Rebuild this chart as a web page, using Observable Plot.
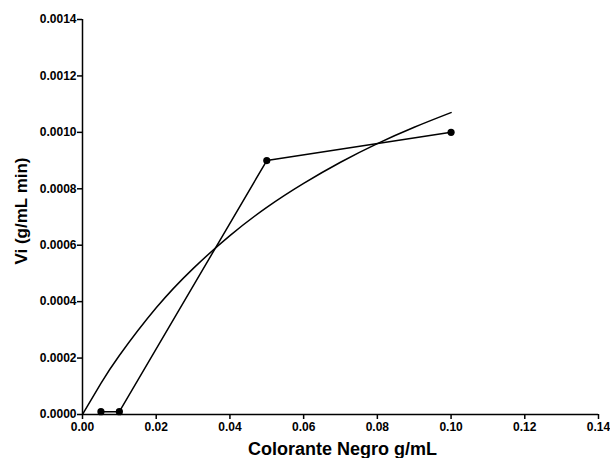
<!DOCTYPE html>
<html><head><meta charset="utf-8">
<script src="https://cdn.jsdelivr.net/npm/d3@7"></script>
<script src="https://cdn.jsdelivr.net/npm/@observablehq/plot@0.6"></script>
<style>body{margin:0;background:#fff}</style>
</head><body><div id="chart"></div>
<script>
// Measured data points
const concentration = [0.005, 0.01, 0.05, 0.1];
const velocity = [0.00001, 0.00001, 0.0009, 0.001];
// Fitted curve
const fitX = [0, 0.005, 0.01, 0.02, 0.03, 0.04, 0.05, 0.06, 0.07, 0.08, 0.09, 0.1];
const fitY = [0, 0.00011, 0.000209, 0.000378, 0.000517, 0.000634, 0.000734, 0.000819, 0.000894, 0.00096, 0.001018, 0.00107];
const xTicks = [0, 0.02, 0.04, 0.06, 0.08, 0.10, 0.12, 0.14];
const yTicks = [0, 0.0002, 0.0004, 0.0006, 0.0008, 0.0010, 0.0012, 0.0014];
const xLabel = "Colorante Negro g/mL";
const yLabel = "Vi (g/mL min)";

const points = concentration.map((c, i) => ({x: c, y: velocity[i]}));
const fit = fitX.map((c, i) => ({x: c, y: fitY[i]}));

const chart = Plot.plot({
  width: 610,
  height: 458,
  marginLeft: 82,
  marginRight: 12,
  marginTop: 19,
  marginBottom: 44,
  style: {fontFamily: "'Liberation Sans', Arial, sans-serif", fontSize: "12px", fontWeight: "bold", color: "#000", background: "#fff"},
  x: {domain: [0, 0.14]},
  y: {domain: [0, 0.0014]},
  marks: [
    Plot.line(fit, {x: "x", y: "y", curve: "natural", stroke: "#000", strokeWidth: 1.5}),
    Plot.line(points, {x: "x", y: "y", stroke: "#000", strokeWidth: 1.5}),
    Plot.dot(points, {x: "x", y: "y", r: 3.6, fill: "#000"}),
    Plot.axisX({ticks: xTicks, tickFormat: d => d.toFixed(2), tickSize: 5, tickPadding: 3, label: null, strokeWidth: 1.5}),
    Plot.axisY({ticks: yTicks, tickFormat: d => d.toFixed(4), tickSize: 5, tickPadding: 1, label: null, strokeWidth: 1.5}),
    Plot.ruleY([0], {stroke: "#000", strokeWidth: 1.5}),
    Plot.ruleX([0], {stroke: "#000", strokeWidth: 1.5}),
    Plot.text([xLabel], {frameAnchor: "bottom", textAnchor: "middle", lineAnchor: "bottom", dx: 2, dy: 40, fontSize: 18, fontWeight: "bold", fill: "#000"}),
    Plot.text([yLabel], {frameAnchor: "left", textAnchor: "middle", rotate: -90, dx: -61, dy: -6, fontSize: 17, fontWeight: "bold", fill: "#000"})
  ]
});
document.getElementById("chart").appendChild(chart);
</script>
</body></html>
